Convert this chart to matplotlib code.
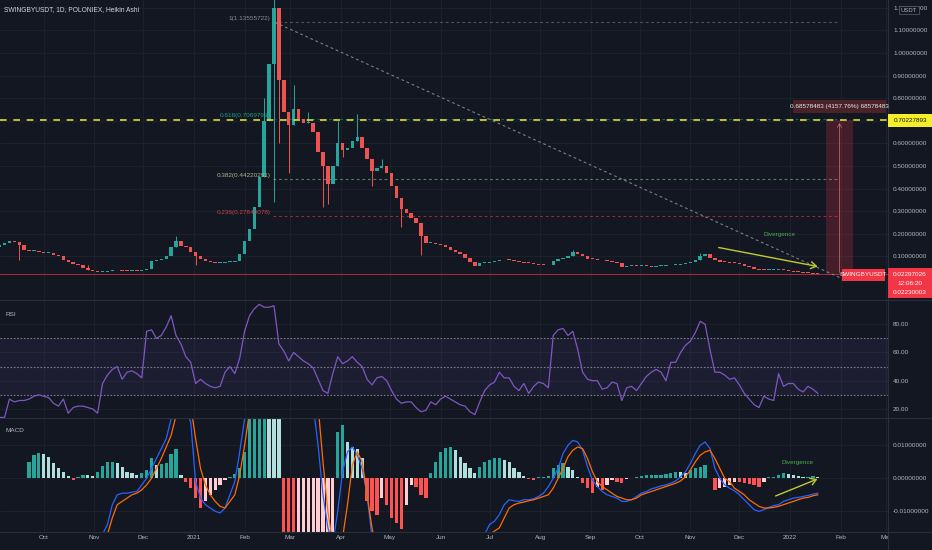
import numpy as np
import pandas as pd
import matplotlib
matplotlib.use('Agg')
import matplotlib.pyplot as plt
import matplotlib.dates as mdates
from matplotlib.patches import Rectangle, FancyArrowPatch
from matplotlib.lines import Line2D
from matplotlib.ticker import FuncFormatter

plt.rcParams['font.family'] = ['Liberation Sans', 'DejaVu Sans']

# ---------------- data ----------------
start_date = '2020-09-04'
step_days = 3
first_open = 0.14
close = [0.15,0.16,0.17,0.165,0.15,0.13,0.125,0.125,0.12,0.115,
 0.115,0.105,0.10,0.085,0.075,0.065,0.06,0.05,0.04,0.035,
 0.03,0.032,0.036,0.04,0.038,0.036,0.034,0.036,0.035,0.038,
 0.045,0.08,0.085,0.09,0.10,0.14,0.17,0.145,0.14,0.12,
 0.10,0.09,0.08,0.075,0.07,0.07,0.075,0.075,0.08,0.11,
 0.17,0.22,0.32,0.45,0.70,0.95,1.20,0.88,0.74,0.68,
 0.75,0.71,0.69,0.69,0.65,0.56,0.50,0.42,0.50,0.60,
 0.57,0.58,0.61,0.63,0.58,0.53,0.48,0.49,0.50,0.47,
 0.41,0.36,0.31,0.29,0.27,0.25,0.19,0.16,0.16,0.155,
 0.15,0.14,0.13,0.12,0.11,0.095,0.075,0.058,0.07,0.072,
 0.075,0.078,0.082,0.084,0.083,0.08,0.075,0.072,0.07,0.066,
 0.063,0.062,0.06,0.08,0.09,0.095,0.10,0.12,0.11,0.10,
 0.09,0.087,0.085,0.082,0.078,0.074,0.07,0.055,0.056,0.057,
 0.056,0.057,0.056,0.055,0.056,0.058,0.06,0.061,0.063,0.066,
 0.07,0.075,0.085,0.10,0.11,0.095,0.085,0.076,0.074,0.072,
 0.07,0.065,0.058,0.052,0.046,0.042,0.040,0.040,0.041,0.046,
 0.040,0.036,0.032,0.030,0.028,0.026,0.024,0.023]

spike_idx = [4, 18, 36, 40, 54, 56, 57, 59, 60, 63, 66, 67, 69, 70, 73, 76, 78, 82, 86, 117, 143]
spike_hi = [np.nan, 0.06, 0.19, np.nan, 0.80, 1.30, np.nan, np.nan, 0.86, 0.74, np.nan, np.nan,
            0.70, np.nan, 0.73, np.nan, 0.53, np.nan, np.nan, 0.13, 0.115]
spike_lo = [0.085, np.nan, np.nan, 0.06, np.nan, 0.34, 0.60, 0.47, np.nan, np.nan, 0.32, 0.33,
            np.nan, 0.54, np.nan, 0.41, np.nan, 0.23, 0.105, np.nan, np.nan]

rsi = [14,14,27,25,26,26,27,29,30,29,
 28,24,22,27,17,21,22,22,21,20,
 17,38,44,48,50,41,46,47,45,42,
 75,76,70,72,78,86,72,66,57,53,
 38,41,38,36,35,36,46,50,45,56,
 75,86,91,94,92,92,93,66,61,54,
 60,57,54,52,49,41,33,31,45,57,
 52,54,57,53,50,41,37,42,43,40,
 33,27,24,25,25,21,18,19,25,23,
 27,29,27,25,23,22,18,16,25,33,
 37,39,46,42,42,36,33,38,31,36,
 39,38,35,72,76,77,72,75,62,46,
 41,40,40,34,35,39,38,26,35,36,
 33,38,43,46,48,46,40,53,53,60,
 65,68,74,82,80,62,46,46,44,41,
 42,37,31,27,23,21,29,27,26,45,
 36,38,38,34,32,36,34,31]

nan = np.nan
# MACD values in units of 0.001
macd_hist_e3 = [nan,nan,nan,nan,nan,nan,5.0,7.0,7.8,7.5,
 6.5,4.5,3.0,2.0,0.8,-0.5,0.5,1.0,0.9,0.8,
 2.0,3.8,4.8,5.0,4.5,3.5,2.0,1.5,1.0,1.5,
 2.5,6.0,4.0,4.2,4.5,7.5,9.0,1.0,-1.0,-3.0,
 -6.0,-9.0,-7.0,-5.0,-3.5,-2.0,-0.5,0.5,1.2,3.0,
 8.0,20,30,35,38,35,30,20,-20,-30,
 -32,-30,-28,-25,-22,-20,-19,-18,-17,14,
 16,11,9.5,9.0,6.0,-7,-10,-11,-6,-8,
 -12,-13.5,-15.5,-8,-2,-2.5,-5,-6,1.5,5,
 8,9.3,9.5,8.5,6.5,4.5,3,1.5,3.5,5,
 5.5,6,6,5.5,4.8,3,1.8,0.8,-0.3,-0.5,
 0.5,0.5,0.8,3,4,4.5,3.5,2.5,0.5,-1.5,
 -3,-4.5,-2.5,-3.5,-2,-0.5,-1,-1.5,-0.3,0.2,
 0.5,0.8,1,1,1,1,1.2,1.5,2,1.8,
 1.5,2.5,3,3.5,4,0,-3.5,-3,-2.5,-2,
 -1,-1.2,-1.5,-1.8,-2,-2.5,-1,0.3,0.5,1,
 1.5,1.2,1,0.7,0.5,0.5,0.6,0.5]

macd_line_e3 = [nan,nan,nan,nan,nan,nan,-30,-28,-27,-26,
 -25,-24,-23,-22,-21,-21,-20,-20,-20,-19,
 -18.5,-17,-14,-8,-5,-4.5,-4.5,-4.2,-4,-2,
 0,3,6,9,12,18,22,22,21,17,
 -1,-6,-8,-9,-10,-10.5,-9,-5,-1,8,
 18,30,40,55,70,80,85,80,70,60,
 50,42,35,28,22,10,-5,-15,-20,-10,
 2,8,9.5,7,3,-5,-18,-25,-28,-32,
 -36,-40,-43,-45,-45,-44,-43,-41,-38,-35,
 -32,-29,-27,-25,-23,-21,-20,-19,-18,-17,
 -14,-13,-11,-8,-6.5,-6.8,-7,-6.5,-6.5,-6.2,
 -5.5,-4.5,-2.5,0,3,7.5,10,11.5,11,8.5,
 3.5,-0.5,-2.5,-4,-5,-5.5,-6,-7,-7,-6.5,
 -5.5,-4.5,-4,-3.2,-2.8,-2.3,-2,-1.5,-0.8,0.5,
 2,4.5,7.5,10,11,9,3,0,-2,-3,
 -3.8,-5,-6.5,-8,-9.5,-10,-9.5,-8.8,-8.3,-8,
 -7,-6.5,-6,-5.8,-5.5,-5.2,-4.8,-4.5]

signal_line_e3 = [nan,nan,nan,nan,nan,nan,-32,-31,-30,-29,
 -28,-27,-26,-25,-24,-23,-22.5,-22,-21.5,-21,
 -20,-19,-17,-12,-8,-7,-6,-5,-4.5,-3.5,
 -2,0,3,6,9.5,13,19,23,24,22,
 12,3,-2,-5,-7,-8.5,-9,-7,-5,1,
 10,20,28,38,50,60,68,72,72,68,
 62,55,48,40,32,22,5,-10,-20,-22,
 -18,-8,4,8,5,-5,-15,-22,-25,-28,
 -30,-33,-36,-38,-40,-41,-41,-40,-38,-36,
 -33,-30,-28,-26,-24,-22,-21,-20,-19,-18,
 -17,-16,-15,-12,-9,-8,-7.5,-7.2,-6.8,-6.5,
 -6,-5.5,-5,-3,0,3,6.5,8.5,9.5,9,
 6,2,-1,-2.5,-3.5,-4.5,-5.5,-6,-6.5,-6.5,
 -6,-5,-4.5,-4,-3.5,-3,-2.5,-2,-1.5,-0.8,
 0.5,2.5,5,7,8,8.5,6,3,0,-1,
 -3,-4,-5,-6.5,-7.5,-8.5,-9,-9,-8.8,-8.5,
 -8,-7.5,-7,-6.5,-6,-5.8,-5.3,-5]

month_ticks = ['2020-10-01','2020-11-01','2020-12-01','2021-01-01','2021-02-01','2021-03-01',
               '2021-04-01','2021-05-01','2021-06-01','2021-07-01','2021-08-01','2021-09-01',
               '2021-10-01','2021-11-01','2021-12-01','2022-01-01','2022-02-01','2022-03-01']
month_labels = ['Oct','Nov','Dec','2021','Feb','Mar','Apr','May','Jun','Jul','Aug','Sep',
                'Oct','Nov','Dec','2022','Feb','Mar']

price_ticks = [0.1,0.2,0.3,0.4,0.5,0.6,0.7,0.8,0.9,1.0,1.1,1.2]
rsi_ticks = [20,40,60,80]
macd_ticks = [-0.01, 0.0, 0.01]

fib_ratios = [1.0, 0.618, 0.382, 0.236]
fib_values = [1.13555722, 0.7069793, 0.44220291, 0.27840078]
fib_colors = ['#787b86', '#089981', '#81c784', '#f23645']
fib_label_colors = ['#8a8d96', '#1f9d88', '#a9b58f', '#c4464f']
fib_start, fib_end = '2021-02-18 12:00', '2022-01-31'

hline_price = 0.70227893
last_price = 0.02297026
measure_low = 0.01649410
measure_start, measure_end = '2022-01-23', '2022-02-08 14:00'
trend_start = ('2021-02-19 14:00', 1.13555722)
trend_end = ('2022-02-03 14:00', -0.004)
div_price = (('2021-11-16 16:00', 0.1416), ('2022-01-19 14:00', 0.053))
div_price_text = ('2021-12-25 18:00', 0.195)
div_macd = (('2021-12-21 14:00', -0.00567), ('2022-01-19 08:00', 0.0001))
div_macd_text = ('2022-01-05 08:00', 0.00464)

# ---------------- style ----------------
BG = '#131722'
GRID = '#1e222d'
TXT = '#b2b5be'
GREEN = '#26a69a'
RED = '#ef5350'
FS = 4.6

W, H = 932, 550
fig = plt.figure(figsize=(W / 100, H / 100), dpi=100)
fig.patch.set_facecolor(BG)

def fx(px):
    return px / W

def fy(py):
    return 1 - py / H

XR = 888

def add_ax(top, bottom):
    ax = fig.add_axes([0, fy(bottom), fx(XR), (bottom - top) / H])
    ax.set_facecolor(BG)
    for s in ax.spines.values():
        s.set_visible(False)
    return ax

ax_p = add_ax(0, 300)
ax_r = add_ax(300, 418)
ax_m = add_ax(418, 532)

dates = pd.date_range(start_date, periods=len(close), freq=f'{step_days}D')
xd = mdates.date2num(dates)
d2n = lambda s: mdates.date2num(pd.Timestamp(s))
xlim = (d2n('2020-09-04 05:00'), d2n('2022-03-02'))
mt = [d2n(t) for t in month_ticks]

for ax in (ax_p, ax_r, ax_m):
    ax.set_xlim(*xlim)
    ax.set_xticks(mt)
    ax.grid(True, color=GRID, lw=0.6, zorder=0)
    ax.set_axisbelow(True)
    ax.yaxis.tick_right()
    ax.tick_params(axis='both', length=0, colors=TXT, labelsize=FS)
    ax.tick_params(axis='y', pad=3.6)
    for lab in ax.get_yticklabels():
        lab.set_horizontalalignment('left')
ax_p.tick_params(axis='x', labelbottom=False)
ax_r.tick_params(axis='x', labelbottom=False)
ax_m.set_xticklabels(month_labels)
ax_m.tick_params(axis='x', pad=2.5)

# ---------------- price pane ----------------
ax_p.set_ylim(-0.0929, 1.2345)
ax_p.set_yticks(price_ticks)
ax_p.yaxis.set_major_formatter(FuncFormatter(lambda v, p: f'{v:.8f}'))

c = np.array(close)
o = np.r_[first_open, c[:-1]]
up = c >= o
cols = np.where(up, GREEN, RED)
body_lo = np.minimum(o, c)
body_h = np.maximum(np.abs(c - o), 0.004)
ax_p.bar(xd, body_h, bottom=body_lo, width=2.1, color=cols, linewidth=0, zorder=3)
for idx, hi, lo in zip(spike_idx, spike_hi, spike_lo):
    top = max(o[idx], c[idx]) if np.isnan(hi) else hi
    bot = min(o[idx], c[idx]) if np.isnan(lo) else lo
    ax_p.vlines(xd[idx], bot, top, color=cols[idx], lw=0.7, zorder=2)

# fib levels
fs_, fe_ = d2n(fib_start), d2n(fib_end)
for r, v, col, lc in zip(fib_ratios, fib_values, fib_colors, fib_label_colors):
    ax_p.plot([fs_, fe_], [v, v], color=col, lw=0.8, ls=(0, (2.5, 2.5)), alpha=0.6, zorder=2)
    ax_p.annotate(f'{r:g}({v:.8f})'.replace('0.7069793', '0.7069793') if r != 0.618 else f'0.618({v})',
                  xy=(fs_, v), xytext=(-2, 1), textcoords='offset points',
                  ha='right', va='bottom', color=lc, fontsize=FS, zorder=4)

# horizontal yellow dashed line
ax_p.axhline(hline_price, color='#d7db3c', lw=1.2, ls=(0, (4, 4)), zorder=4)
# last price line
ax_p.axhline(last_price, color='#f23645', lw=0.6, alpha=0.8, zorder=4)

# trend line
ax_p.plot([d2n(trend_start[0]), d2n(trend_end[0])], [trend_start[1], trend_end[1]],
          color='#9598a1', lw=0.8, ls=(0, (2.5, 2.5)), alpha=0.8, zorder=4)

# measurement box
m0, m1 = d2n(measure_start), d2n(measure_end)
ax_p.add_patch(Rectangle((m0, measure_low), m1 - m0, hline_price - measure_low,
                         facecolor='#f23645', alpha=0.22, edgecolor='none', zorder=1))
ax_p.add_patch(FancyArrowPatch(((m0 + m1) / 2, measure_low), ((m0 + m1) / 2, hline_price),
                               arrowstyle='->,head_length=2.5,head_width=1.5',
                               color='#f77c80', lw=0.6, alpha=0.7, zorder=2))

# divergence arrow (price)
ax_p.add_patch(FancyArrowPatch((d2n(div_price[0][0]), div_price[0][1]),
                               (d2n(div_price[1][0]), div_price[1][1]),
                               arrowstyle='->,head_length=4,head_width=2.5',
                               color='#c0ca33', lw=1.0, zorder=5))
ax_p.text(d2n(div_price_text[0]), div_price_text[1], 'Divergence', color='#4caf50',
          fontsize=FS, ha='center', va='center', zorder=5)

# ---------------- RSI pane ----------------
ax_r.set_ylim(13.6, 97.1)
ax_r.set_yticks(rsi_ticks)
ax_r.yaxis.set_major_formatter(FuncFormatter(lambda v, p: f'{v:.2f}'))
ax_r.axhspan(30, 70, color='#7e57c2', alpha=0.1, lw=0, zorder=1)
for lv in (70, 50, 30):
    ax_r.axhline(lv, color='#787b86', lw=0.8, ls=(0, (1.5, 1.5)), zorder=2)
ax_r.plot(xd, rsi, color='#7e57c2', lw=0.9, zorder=3)

# ---------------- MACD pane ----------------
ax_m.set_ylim(-0.01627, 0.01827)
ax_m.set_yticks(macd_ticks)
ax_m.yaxis.set_major_formatter(FuncFormatter(lambda v, p: f'{v:.8f}'))
h = np.array(macd_hist_e3) * 1e-3
prev = np.r_[np.nan, h[:-1]]
hcols = []
for v, p in zip(h, prev):
    if np.isnan(v):
        hcols.append(BG)
    elif v >= 0:
        hcols.append('#26a69a' if (np.isnan(p) or v >= p) else '#b2dfdb')
    else:
        hcols.append('#ffcdd2' if (not np.isnan(p) and v > p) else '#ff5252')
ax_m.bar(xd, np.nan_to_num(h), width=2.0, color=hcols, linewidth=0, zorder=2)
ax_m.plot(xd, np.array(macd_line_e3) * 1e-3, color='#2962ff', lw=0.9, zorder=3)
ax_m.plot(xd, np.array(signal_line_e3) * 1e-3, color='#ff6d00', lw=0.9, zorder=3)
ax_m.add_patch(FancyArrowPatch((d2n(div_macd[0][0]), div_macd[0][1]),
                               (d2n(div_macd[1][0]), div_macd[1][1]),
                               arrowstyle='->,head_length=4,head_width=2.5',
                               color='#c0ca33', lw=1.0, zorder=5))
ax_m.text(d2n(div_macd_text[0]), div_macd_text[1], 'Divergence', color='#4caf50',
          fontsize=FS, ha='center', va='center', zorder=5)

# ---------------- figure-level decorations ----------------
def frect(x0, y0, x1, y1, color, z=6, **kw):
    fig.patches.append(Rectangle((fx(x0), fy(y1)), fx(x1) - fx(x0), (y1 - y0) / H,
                                 transform=fig.transFigure, facecolor=color, zorder=z, **kw))

def ftext(x, y, s, color=TXT, ha='left', size=FS, z=8, **kw):
    fig.text(fx(x), fy(y), s, color=color, ha=ha, va='center', fontsize=size, zorder=z, **kw)

def fline(x0, y0, x1, y1, color='#2a2e39', lw=0.8, z=6):
    fig.lines.append(Line2D([fx(x0), fx(x1)], [fy(y0), fy(y1)], transform=fig.transFigure,
                            color=color, lw=lw, zorder=z))

# cover for time axis under price scale
frect(XR, 532, W, H, BG, z=5, edgecolor='none')
# pane separators
fline(0, 300, W, 300)
fline(0, 418, W, 418)
fline(0, 532, W, 532)
fline(XR, 0, XR, 550)

# title and pane names
ftext(4, 10, 'SWINGBYUSDT, 1D, POLONIEX, Heikin Ashi', color='#d1d4dc', size=4.8)
ftext(5, 315, 'RSI', size=4.6)
ftext(5, 430, 'MACD', size=4.6)

# USDT box
fig.text(fx(909), fy(10), 'USDT', color=TXT, ha='center', va='center', fontsize=4.2, zorder=8,
         bbox=dict(boxstyle='square,pad=0.25', facecolor=BG, edgecolor='#5d606b', lw=0.5))

# yellow price label
frect(XR, 114, W, 127, '#f5ef2a', edgecolor='none')
ftext(910, 120.5, '0.70227893', color='#131722', ha='center', size=FS)

# current price label
frect(XR, 268, W, 298, '#f23645', edgecolor='none')
ftext(910, 275, '0.02297026', color='white', ha='center', size=FS)
ftext(910, 283.5, '12:06:20', color='white', ha='center', size=FS)
ftext(910, 292, '0.02230003', color='white', ha='center', size=FS)
frect(842, 268.5, 885, 280.5, '#f23645', edgecolor='none')
ftext(863.5, 274.5, 'SWINGBYUSDT', color='white', ha='center', size=FS)

# measurement label
frect(793, 100, 886, 113, '#4a2329', edgecolor='none')
ftext(839.5, 106.5, '0.68578483 (4157.76%) 68578483', color='#e8e8ea', ha='center', size=FS)

fig.savefig('out.png', dpi=100, facecolor=BG)
